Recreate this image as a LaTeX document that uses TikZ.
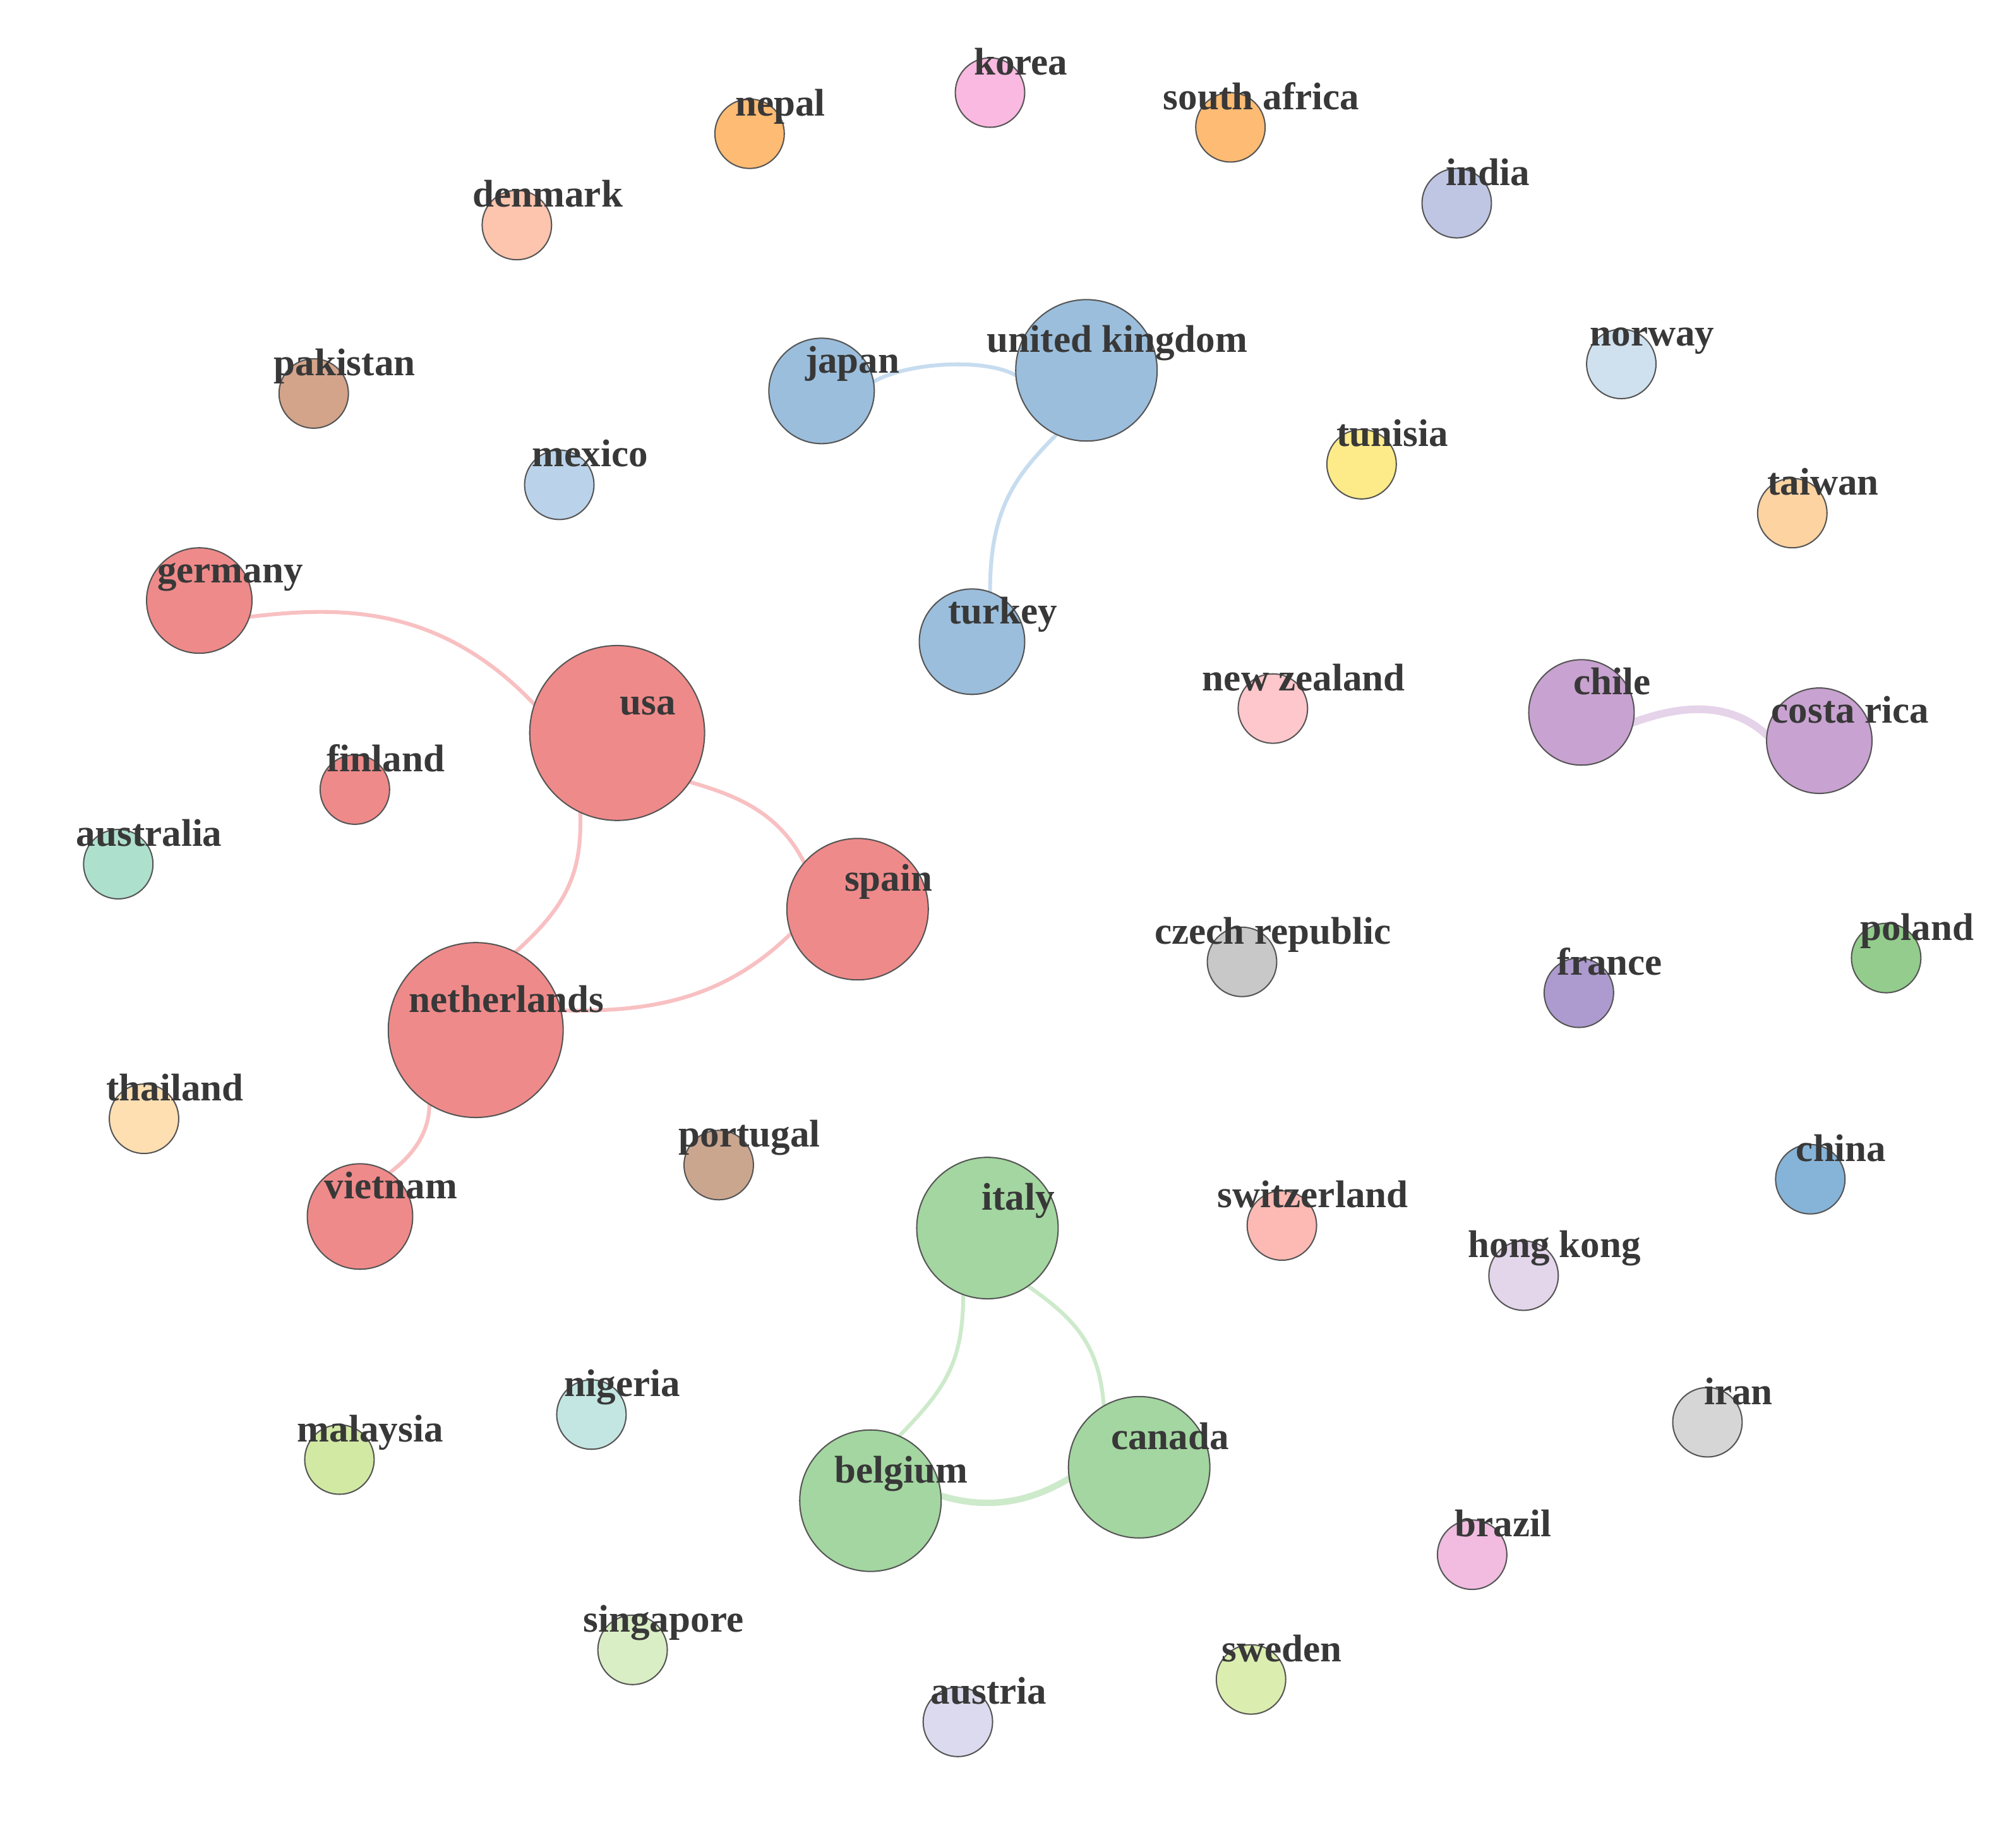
\documentclass[tikz,border=0pt]{standalone}
\usepackage{fontspec}
\setmainfont{Liberation Serif}
\usetikzlibrary{backgrounds}
\definecolor{bordc}{HTML}{555555}
\definecolor{textc}{HTML}{383838}
\definecolor{cred}{HTML}{EF8A8A}
\definecolor{cblue}{HTML}{9BBEDC}
\definecolor{cgreen}{HTML}{A3D6A0}
\definecolor{cpurple}{HTML}{C8A2D0}
\definecolor{ckorea}{HTML}{F9B9E0}
\definecolor{corange}{HTML}{FDBB73}
\definecolor{cindia}{HTML}{BFC6E4}
\definecolor{cdenmark}{HTML}{FDC4AE}
\definecolor{cnorway}{HTML}{CFE1EE}
\definecolor{cpakistan}{HTML}{D3A48A}
\definecolor{ctunisia}{HTML}{FDEB8A}
\definecolor{cmexico}{HTML}{BAD3EA}
\definecolor{ctaiwan}{HTML}{FDD3A2}
\definecolor{cnz}{HTML}{FDC7CB}
\definecolor{caustralia}{HTML}{AEE0CE}
\definecolor{cczech}{HTML}{C8C8C8}
\definecolor{cfrance}{HTML}{AD9BCF}
\definecolor{cpoland}{HTML}{93CC8C}
\definecolor{cthailand}{HTML}{FDDFB2}
\definecolor{cportugal}{HTML}{CBA68F}
\definecolor{cswiss}{HTML}{FDBAB4}
\definecolor{cchina}{HTML}{86B4D8}
\definecolor{chk}{HTML}{E3D5EA}
\definecolor{cnigeria}{HTML}{C3E6E2}
\definecolor{ciran}{HTML}{D6D6D6}
\definecolor{cmalaysia}{HTML}{D2E9A4}
\definecolor{cbrazil}{HTML}{F1BCE0}
\definecolor{csingapore}{HTML}{DAEEC5}
\definecolor{csweden}{HTML}{DBEEB0}
\definecolor{caustria}{HTML}{DCDAEE}
\definecolor{redl}{HTML}{F8C0C2}
\definecolor{bluel}{HTML}{C7DCEF}
\definecolor{greenl}{HTML}{CDEACB}
\definecolor{purl}{HTML}{E5D3EA}
\begin{document}
\begin{tikzpicture}[x=1pt,y=-1pt,
  cbase/.style={circle, draw=bordc, line width=1pt, inner sep=0pt, outer sep=0pt},
  nsmall/.style={cbase, minimum size=54pt},
  nmid/.style={cbase, minimum size=82pt},
  nbig/.style={cbase, minimum size=110pt},
  nhuge/.style={cbase, minimum size=136pt},
  lbl/.style={anchor=base, inner sep=0pt, text=textc, font=\bfseries\fontsize{30}{36}\selectfont},
  link/.style={line width=3pt, line cap=round},
  thicklink/.style={line width=6pt, line cap=round},
]
\useasboundingbox (0,0) rectangle (1568,1423);

\node[nsmall, fill=ckorea] (korea) at (770,72) {};
\node[nsmall, fill=corange] (nepal) at (583,104) {};
\node[nsmall, fill=corange] (safrica) at (957,99) {};
\node[nsmall, fill=cindia] (india) at (1133,158) {};
\node[nsmall, fill=cdenmark] (denmark) at (402,175) {};
\node[nsmall, fill=cnorway] (norway) at (1261,283) {};
\node[nsmall, fill=cpakistan] (pakistan) at (244,306) {};
\node[nmid, fill=cblue] (japan) at (639,304) {};
\node[nbig, fill=cblue] (uk) at (845,288) {};
\node[nsmall, fill=ctunisia] (tunisia) at (1059,361) {};
\node[nsmall, fill=cmexico] (mexico) at (435,377) {};
\node[nsmall, fill=ctaiwan] (taiwan) at (1394,399) {};
\node[nmid, fill=cred] (germany) at (155,467) {};
\node[nmid, fill=cblue] (turkey) at (756,499) {};
\node[nhuge, fill=cred] (usa) at (480,570) {};
\node[nsmall, fill=cnz] (nz) at (990,551) {};
\node[nmid, fill=cpurple] (chile) at (1230,554) {};
\node[nmid, fill=cpurple] (costarica) at (1415,576) {};
\node[nsmall, fill=cred] (finland) at (276,614) {};
\node[nsmall, fill=caustralia] (australia) at (92,672) {};
\node[nbig, fill=cred] (spain) at (667,707) {};
\node[nsmall, fill=cczech] (czech) at (966,748) {};
\node[nsmall, fill=cfrance] (france) at (1228,772) {};
\node[nsmall, fill=cpoland] (poland) at (1467,745) {};
\node[nhuge, fill=cred] (netherlands) at (370,801) {};
\node[nsmall, fill=cthailand] (thailand) at (112,870) {};
\node[nsmall, fill=cportugal] (portugal) at (559,906) {};
\node[nmid, fill=cred] (vietnam) at (280,946) {};
\node[nbig, fill=cgreen] (italy) at (768,955) {};
\node[nsmall, fill=cswiss] (switzerland) at (997,953) {};
\node[nsmall, fill=cchina] (china) at (1408,917) {};
\node[nsmall, fill=chk] (hongkong) at (1185,992) {};
\node[nsmall, fill=cnigeria] (nigeria) at (460,1100) {};
\node[nsmall, fill=ciran] (iran) at (1328,1106) {};
\node[nsmall, fill=cmalaysia] (malaysia) at (264,1135) {};
\node[nbig, fill=cgreen] (canada) at (886,1141) {};
\node[nbig, fill=cgreen] (belgium) at (677,1167) {};
\node[nsmall, fill=cbrazil] (brazil) at (1145,1209) {};
\node[nsmall, fill=csingapore] (singapore) at (492,1283) {};
\node[nsmall, fill=csweden] (sweden) at (973,1306) {};
\node[nsmall, fill=caustria] (austria) at (745,1339) {};

\foreach \id/\txt in {korea/korea, nepal/nepal, safrica/south africa, india/india,
  denmark/denmark, norway/norway, pakistan/pakistan, japan/japan, uk/united kingdom,
  tunisia/tunisia, mexico/mexico, taiwan/taiwan, germany/germany, turkey/turkey,
  usa/usa, nz/new zealand, chile/chile, costarica/costa rica, finland/finland,
  australia/australia, spain/spain, czech/czech republic, france/france, poland/poland,
  netherlands/netherlands, thailand/thailand, portugal/portugal, vietnam/vietnam,
  italy/italy, switzerland/switzerland, china/china, hongkong/hong kong, nigeria/nigeria,
  iran/iran, malaysia/malaysia, canada/canada, belgium/belgium, brazil/brazil,
  singapore/singapore, sweden/sweden, austria/austria}
  \node[lbl] (\id-l) at ([shift={(24,-14)}]\id.center) {\txt};

\begin{scope}[on background layer]
\draw[link, bluel] (japan.10) .. controls (705,282) and (765,278) .. (uk.184);
\draw[link, bluel] (uk.245) .. controls (790,370) and (770,395) .. (turkey.70);
\draw[link, redl] (germany.342) .. controls (260,472) and (340,468) .. (usa.161);
\draw[link, redl] (usa.326) .. controls (570,618) and (605,630) .. (spain.139);
\draw[link, redl] (usa.245) .. controls (453,680) and (440,705) .. (netherlands.63);
\draw[link, redl] (netherlands.13) .. controls (500,787) and (560,780) .. (spain.200);
\draw[link, redl] (netherlands.238) .. controls (334,880) and (322,898) .. (vietnam.56);
\draw[thicklink, purl] (chile.349) .. controls (1295,553) and (1340,540) .. (costarica.174);
\draw[link, greenl] (italy.250) .. controls (749,1060) and (735,1080) .. (belgium.66);
\draw[link, greenl] (italy.305) .. controls (835,1025) and (855,1045) .. (canada.120);
\draw[link, greenl, line width=5pt] (belgium.4) .. controls (755,1170) and (790,1175) .. (canada.189);
\end{scope}
\end{tikzpicture}
\end{document}
